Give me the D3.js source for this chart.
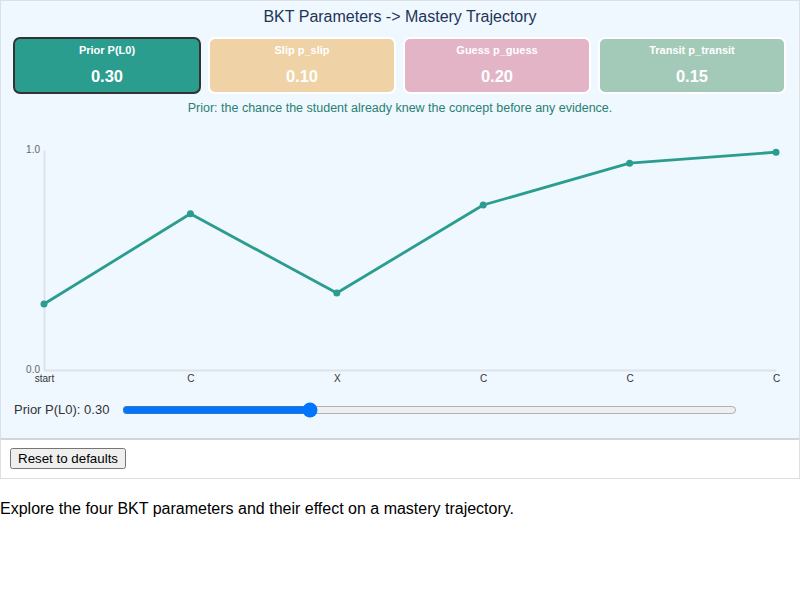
<!DOCTYPE html>
<html>
<head>
<meta charset="utf-8">
<script src="https://cdn.jsdelivr.net/npm/d3@7"></script>
<style>
  html, body { margin: 0; padding: 0; background: #fff; font-family: "Liberation Sans", Arial, Helvetica, sans-serif; }
  #wrap { width: 800px; box-sizing: border-box; border: 1px solid #dcdfe3; }
  #panel { position: relative; height: 437px; background: #eff7ff; border-bottom: 2px solid #d3d6d9; }
  #panel svg { position: absolute; left: 0; top: 0; }
  #slider { position: absolute; left: 121px; top: 400px; width: 615px; margin: 0; height: 18px; }
  #controls { padding: 8px 9px 9px; }
  #controls button { font-family: "Liberation Sans", Arial, sans-serif; font-size: 13.33px; }
  p.note { margin: 21px 0 0; font-size: 16px; color: #000; }
</style>
</head>
<body>
<div id="wrap">
  <div id="panel"></div>
  <div id="controls"><button id="reset">Reset to defaults</button></div>
</div>
<p class="note">Explore the four BKT parameters and their effect on a mastery trajectory.</p>
<script>
// ---- data ----
const paramLabels = ["Prior P(L0)", "Slip p_slip", "Guess p_guess", "Transit p_transit"];
const paramValues = [0.30, 0.10, 0.20, 0.15];
const paramColors = ["#2a9d8f", "#efd2a5", "#e2b4c5", "#a3c9b9"];
const selectedParam = 0;
const stepLabels = ["start", "C", "X", "C", "C", "C"];
const mastery = [0.30, 0.71, 0.35, 0.75, 0.94, 0.99];
const yTicks = [0, 1];
const caption = "Prior: the chance the student already knew the concept before any evidence.";
const title = "BKT Parameters -> Mastery Trajectory";

const W = 798, H = 437;
const panel = d3.select("#panel");
const svg = panel.append("svg").attr("width", W).attr("height", H)
  .style("font-family", '"Liberation Sans", Arial, Helvetica, sans-serif');

// title
svg.append("text").attr("x", 399).attr("y", 21).attr("text-anchor", "middle")
  .attr("font-size", 16).attr("fill", "#1d3557").text(title);

// cards
const cardW = 186, cardStep = 195;
const cards = svg.append("g").selectAll("g").data(paramLabels).join("g")
  .attr("transform", (d, i) => `translate(${13 + i * cardStep},37)`);
cards.append("rect")
  .attr("width", cardW).attr("height", 55).attr("rx", 6)
  .attr("fill", (d, i) => paramColors[i])
  .attr("stroke", (d, i) => i === selectedParam ? "#333" : "#fff")
  .attr("stroke-width", 2);
cards.append("text").attr("x", cardW / 2).attr("y", 16).attr("text-anchor", "middle")
  .attr("font-size", 11).attr("font-weight", "bold").attr("fill", "#fff").text(d => d);
cards.append("text").attr("x", cardW / 2).attr("y", 44).attr("text-anchor", "middle")
  .attr("font-size", 16.5).attr("font-weight", "bold").attr("fill", "#fff")
  .text((d, i) => paramValues[i].toFixed(2));

// caption
svg.append("text").attr("x", 399).attr("y", 111).attr("text-anchor", "middle")
  .attr("font-size", 12.5).attr("fill", "#2a8072").text(caption);

// chart
const x = d3.scalePoint().domain(d3.range(stepLabels.length)).range([43, 775]);
const y = d3.scaleLinear().domain([0, 1]).range([369, 149]);

const gx = svg.append("g").attr("transform", `translate(0,${y(0)})`)
  .call(d3.axisBottom(x).tickSize(0).tickPadding(5).tickFormat(i => stepLabels[i]));
const gy = svg.append("g").attr("transform", `translate(${x(0)},0)`)
  .call(d3.axisLeft(y).tickValues(yTicks).tickSize(0).tickPadding(4).tickFormat(d3.format(".1f")));
[gx, gy].forEach(g => {
  g.select(".domain").attr("stroke", "#dde3ea").attr("stroke-width", 2);
  g.selectAll("text").attr("font-family", '"Liberation Sans", Arial, sans-serif').attr("font-size", 10);
});
gx.selectAll("text").attr("fill", "#333");
gy.selectAll("text").attr("fill", "#666").attr("dy", "0.2em");

const line = d3.line().x((d, i) => x(i)).y(d => y(d));
svg.append("path").datum(mastery).attr("d", line)
  .attr("fill", "none").attr("stroke", "#2a9d8f").attr("stroke-width", 2.8)
  .attr("stroke-linejoin", "round");
svg.append("g").selectAll("circle").data(mastery).join("circle")
  .attr("cx", (d, i) => x(i)).attr("cy", d => y(d)).attr("r", 3.5).attr("fill", "#2a9d8f");

// slider row
svg.append("text").attr("x", 13).attr("y", 413).attr("font-size", 13).attr("fill", "#333")
  .text(`${paramLabels[selectedParam]}: ${paramValues[selectedParam].toFixed(2)}`);
panel.append("input").attr("id", "slider").attr("type", "range")
  .attr("min", 0).attr("max", 1).attr("step", 0.01).property("value", paramValues[selectedParam]);
</script>
</body>
</html>
